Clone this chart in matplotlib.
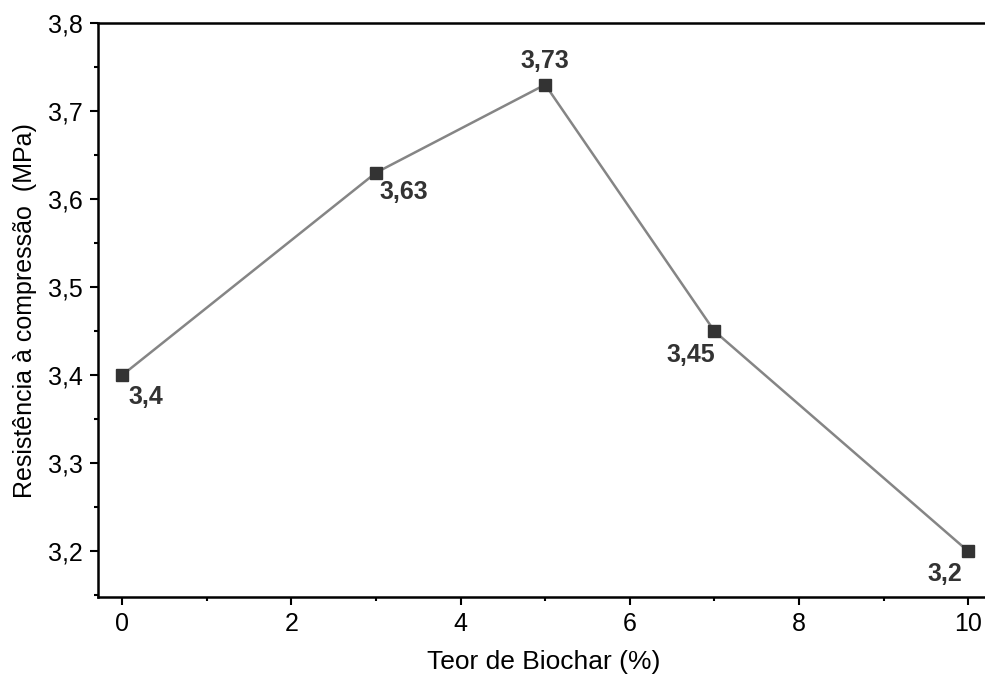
import matplotlib
matplotlib.use('Agg')
import matplotlib.pyplot as plt
from matplotlib.ticker import MultipleLocator, FuncFormatter

# ================
# Data
# ================
biochar = [0, 3, 5, 7, 10]               # Teor de Biochar (%)
resistencia = [3.40, 3.63, 3.73, 3.45, 3.20]   # Resistência à compressão (MPa)
rotulos = ['3,4', '3,63', '3,73', '3,45', '3,2']
# label offsets (points) relative to each marker
offsets = [(17, -16), (20, -14), (0, 17), (-17, -17), (-17, -16)]

plt.rcParams['font.family'] = ['Liberation Sans', 'DejaVu Sans']

fig = plt.figure(figsize=(9.85, 6.77), dpi=100)
ax = fig.add_axes([0.0995, 0.118, 0.905, 0.848])

ax.plot(biochar, resistencia, '-', color='#858585', linewidth=1.8, zorder=2)
ax.plot(biochar, resistencia, 's', color='#333333', markersize=9, zorder=3)

for x, y, lab, off in zip(biochar, resistencia, rotulos, offsets):
    ax.annotate(lab, (x, y), xytext=off, textcoords='offset points',
                ha='center', va='center', fontsize=18, fontweight='bold',
                color='#333333')

ax.set_xlim(-0.285, 10.25)
ax.set_ylim(3.148, 3.8)

ax.xaxis.set_major_locator(MultipleLocator(2))
ax.xaxis.set_minor_locator(MultipleLocator(1))
ax.yaxis.set_major_locator(MultipleLocator(0.1))
ax.yaxis.set_minor_locator(MultipleLocator(0.05))
ax.yaxis.set_major_formatter(FuncFormatter(lambda v, p: f'{v:.1f}'.replace('.', ',')))

ax.tick_params(which='major', direction='out', length=6, width=1.5, labelsize=18, pad=5)
ax.tick_params(which='minor', direction='out', length=3, width=1.5)

for side in ['left', 'bottom', 'top']:
    ax.spines[side].set_linewidth(1.8)
ax.spines['right'].set_visible(False)

ax.set_xlabel('Teor de Biochar (%)', fontsize=19, labelpad=10)
ax.set_ylabel('Resistência à compressão  (MPa)', fontsize=18, labelpad=8)

fig.savefig('out.png', dpi=100)
